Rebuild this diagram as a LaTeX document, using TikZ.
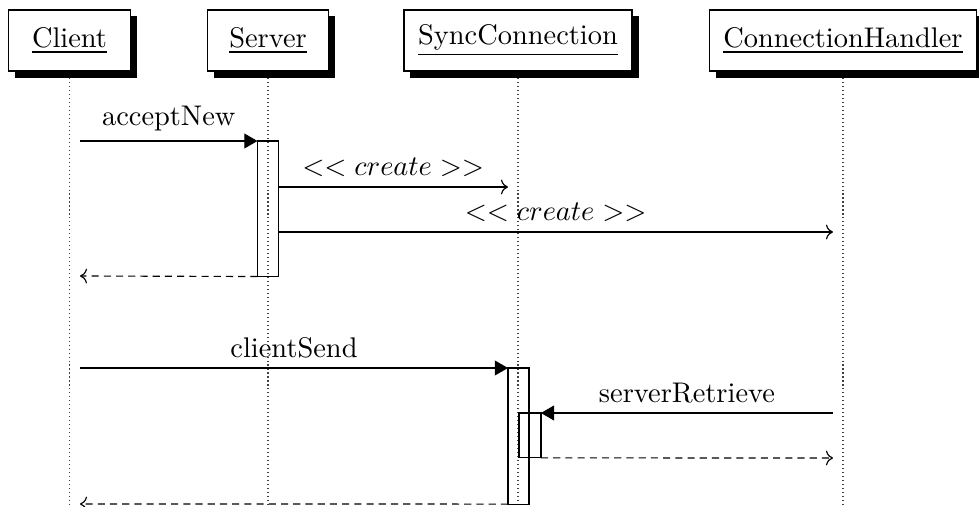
\documentclass[tikz,border=0pt]{standalone}
\usetikzlibrary{arrows.meta,shadows}
\begin{document}
\begin{tikzpicture}[x=0.352pt,y=-0.352pt,
  inst/.style={draw, fill=white, minimum width=42.7pt, minimum height=21.5pt,
    inner xsep=5pt, outer sep=0pt,
    drop shadow={shadow xshift=2.3pt, shadow yshift=-2.3pt, fill=black, opacity=1}},
  life/.style={densely dotted, black!75},
  act/.style={draw, minimum width=7.4pt, inner sep=0pt, outer sep=0pt, anchor=north},
  call/.style={-{Triangle[length=4.6pt,width=5.2pt]}},
  newmsg/.style={->},
  reply/.style={->, dash pattern=on 2.5pt off 1.8pt},
]
\useasboundingbox (0,0) rectangle (979,507);
\coordinate (bot) at (0,507);

% instances
\node[inst] (cli)  at (69.5,40.5)  {\underline{Client}};
\node[inst] (srv)  at (268,40.5)   {\underline{Server}};
\node[inst] (sync) at (518,40.5)   {\underline{SyncConnection}};
\node[inst] (hnd)  at (843,40.5)   {\underline{ConnectionHandler}};

% lifelines
\foreach \o in {cli,srv,sync,hnd}
  \draw[life] ([yshift=-2.5pt]\o.south) -- (\o.south |- bot);

% activations
\node[act, minimum height=47.7pt] (a1) at (268,141) {};
\node[act, minimum height=47.9pt] (a2) at (518.5,368) {};
\node[act, minimum width=7.7pt, minimum height=15.8pt] (a3) at (530,413) {};

% message end points on the lifelines
\coordinate (c1) at (80,141);
\coordinate (c2) at (80,276);
\coordinate (c3) at (80,368);
\coordinate (c4) at (80,504);
\coordinate (k1) at (508,187);
\coordinate (k2) at (833,232);
\coordinate (h1) at (833,413);
\coordinate (h2) at (833,458);

% messages
\draw[call] (c1) -- node[above] (l1) {acceptNew} (a1.north west);
\draw[newmsg] (a1.east |- k1) -- node[above] (l2) {$<< create >>$} (k1);
\draw[newmsg] (a1.east |- k2) -- node[above] (l3) {$<< create >>$} (k2);
\draw[reply] (a1.south west) -- (c2);

\draw[call] (c3) -- node[above] (l4) {clientSend} (a2.north west);
\draw[call] (h1) -- node[above] (l5) {serverRetrieve} (a3.north east);
\draw[reply] (a3.south east) -- (h2);
\draw[reply] (a2.south west) -- (c4);
\end{tikzpicture}
\end{document}
